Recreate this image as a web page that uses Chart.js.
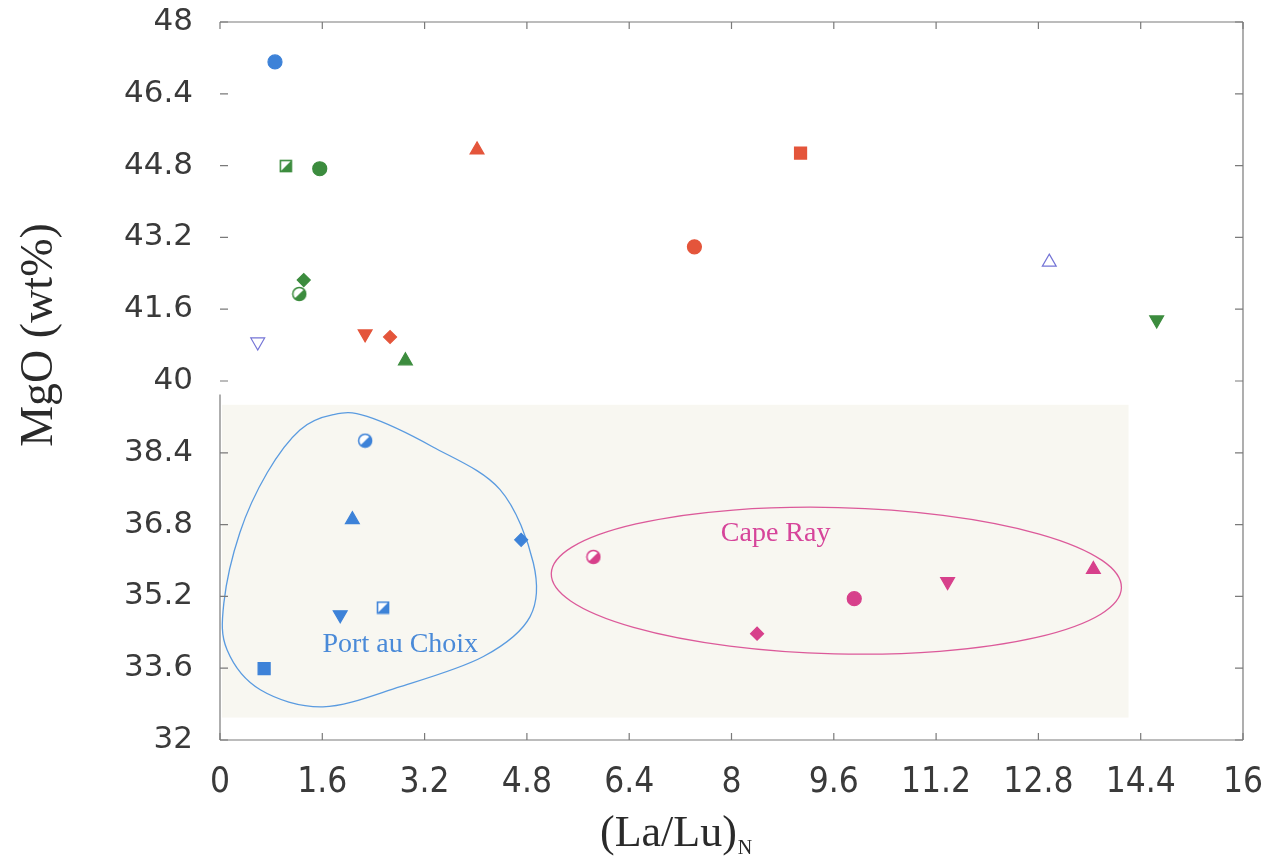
<!DOCTYPE html>
<html>
<head>
<meta charset="utf-8">
<script src="https://cdn.jsdelivr.net/npm/chart.js@4.4.1/dist/chart.umd.min.js"></script>
<style>
  body { margin: 0; background: #fff; }
  canvas { display: block; }
</style>
</head>
<body>
<canvas id="mgoChart" width="1284" height="859"></canvas>
<script>
// Axis ticks
const xTicks = [0, 1.6, 3.2, 4.8, 6.4, 8, 9.6, 11.2, 12.8, 14.4, 16];
const yTicks = [32, 33.6, 35.2, 36.8, 38.4, 40, 41.6, 43.2, 44.8, 46.4, 48];

// Samples above 40 wt% MgO, grouped by colour
const blueX = [0.86];
const blueY = [47.11];
const greenX = [1.03, 1.56, 1.31, 1.24, 2.90, 14.65];
const greenY = [44.79, 44.73, 42.25, 41.94, 40.45, 41.36];
const redX = [4.02, 9.08, 7.42, 2.27, 2.66];
const redY = [45.15, 45.08, 42.99, 41.05, 40.98];
const openX = [12.97, 0.59];
const openY = [42.65, 40.87];

// Port au Choix and Cape Ray samples
const portX = [2.27, 2.07, 4.71, 1.88, 2.55, 0.69];
const portY = [38.67, 36.91, 36.46, 34.79, 34.95, 33.59];
const capeX = [5.84, 8.40, 9.92, 11.38, 13.66];
const capeY = [36.08, 34.37, 35.15, 35.53, 35.80];

// Field outlines (data units)
const portOutlineX = [1.77, 2.30, 3.33, 4.38, 4.90, 4.85, 4.12, 2.82, 1.61, 0.63, 0.11, 0.06, 0.31, 0.74, 1.25];
const portOutlineY = [39.25, 39.21, 38.53, 37.58, 35.95, 34.75, 33.86, 33.19, 32.74, 33.12, 34.01, 35.05, 36.62, 37.96, 38.91];
const capeEllipse = { cx: 9.64, cy: 35.55, rx: 4.46, ry: 1.63 };

const BLUE = '#3d82d8';
const GREEN = '#3c8c3e';
const RED = '#e4553b';
const PINK = '#d7408b';
const VIOLET = '#7474d6';

function toPoints(xs, ys) {
    return xs.map((x, i) => ({ x: x, y: ys[i] }));
}

// half-filled square: outline plus lower-right triangle
function halfSquare(color) {
    const s = 14;
    const c = document.createElement('canvas');
    c.width = s; c.height = s;
    const g = c.getContext('2d');
    g.fillStyle = '#fff';
    g.fillRect(1, 1, s - 2, s - 2);
    g.fillStyle = color;
    g.beginPath();
    g.moveTo(1, s - 1);
    g.lineTo(s - 1, 1);
    g.lineTo(s - 1, s - 1);
    g.closePath();
    g.fill();
    g.strokeStyle = color;
    g.lineWidth = 1.6;
    g.strokeRect(1.5, 1.5, s - 3, s - 3);
    return c;
}

// half-filled circle: lower-right half solid
function halfCircle(color) {
    const s = 16;
    const c = document.createElement('canvas');
    c.width = s; c.height = s;
    const g = c.getContext('2d');
    const r = 6.5;
    g.fillStyle = '#fff';
    g.beginPath(); g.arc(s / 2, s / 2, r, 0, Math.PI * 2); g.fill();
    g.fillStyle = color;
    g.beginPath();
    g.arc(s / 2, s / 2, r, -Math.PI / 4, Math.PI * 3 / 4);
    g.closePath();
    g.fill();
    g.strokeStyle = color;
    g.lineWidth = 1.5;
    g.beginPath(); g.arc(s / 2, s / 2, r, 0, Math.PI * 2); g.stroke();
    return c;
}

function dataset(xs, ys, color, styles, rotations, radii, fill) {
    return {
        data: toPoints(xs, ys),
        pointStyle: styles,
        rotation: rotations,
        pointRadius: radii,
        pointHoverRadius: radii,
        backgroundColor: fill || color,
        borderColor: color,
        borderWidth: 1.2
    };
}

// Background panel, outlines and labels behind the markers
const fieldPlugin = {
    id: 'fields',
    beforeDatasetsDraw(chart) {
        const { ctx, scales: { x, y } } = chart;
        ctx.save();

        ctx.fillStyle = '#f8f7f1';
        const left = x.getPixelForValue(0.03), right = x.getPixelForValue(14.21);
        const top = y.getPixelForValue(39.47), bottom = y.getPixelForValue(32.5);
        ctx.fillRect(left, top, right - left, bottom - top);

        // Port au Choix closed curve (Catmull-Rom)
        const pts = portOutlineX.map((v, i) => [x.getPixelForValue(v), y.getPixelForValue(portOutlineY[i])]);
        const n = pts.length;
        ctx.strokeStyle = '#5a9be0';
        ctx.lineWidth = 1.3;
        ctx.beginPath();
        ctx.moveTo(pts[0][0], pts[0][1]);
        for (let i = 0; i < n; i++) {
            const p0 = pts[(i - 1 + n) % n], p1 = pts[i], p2 = pts[(i + 1) % n], p3 = pts[(i + 2) % n];
            ctx.bezierCurveTo(
                p1[0] + (p2[0] - p0[0]) / 6, p1[1] + (p2[1] - p0[1]) / 6,
                p2[0] - (p3[0] - p1[0]) / 6, p2[1] - (p3[1] - p1[1]) / 6,
                p2[0], p2[1]
            );
        }
        ctx.stroke();

        // Cape Ray ellipse
        const cx = x.getPixelForValue(capeEllipse.cx), cy = y.getPixelForValue(capeEllipse.cy);
        const rx = x.getPixelForValue(capeEllipse.cx + capeEllipse.rx) - cx;
        const ry = cy - y.getPixelForValue(capeEllipse.cy + capeEllipse.ry);
        ctx.strokeStyle = '#dc5a9a';
        ctx.beginPath();
        ctx.ellipse(cx, cy, rx, ry, 0.025, 0, Math.PI * 2);
        ctx.stroke();

        ctx.font = '28px "Liberation Serif", "Times New Roman", serif';
        ctx.textAlign = 'center';
        ctx.textBaseline = 'middle';
        ctx.fillStyle = '#4a8ad8';
        ctx.fillText('Port au Choix', x.getPixelForValue(2.82), y.getPixelForValue(34.12));
        ctx.fillStyle = '#d6459a';
        ctx.fillText('Cape Ray', x.getPixelForValue(8.69), y.getPixelForValue(36.6));
        ctx.restore();
    }
};

// Frame, inner ticks and axis titles
const framePlugin = {
    id: 'frame',
    afterDraw(chart) {
        const { ctx, chartArea: a, scales: { x, y } } = chart;
        ctx.save();
        ctx.strokeStyle = '#7a7a7a';
        ctx.lineWidth = 1.2;
        ctx.beginPath();
        ctx.moveTo(a.left, a.bottom); ctx.lineTo(a.right, a.bottom);
        ctx.moveTo(a.right, a.bottom); ctx.lineTo(a.right, a.top);
        ctx.moveTo(a.left, a.top); ctx.lineTo(a.right, a.top);
        ctx.moveTo(a.left, a.bottom); ctx.lineTo(a.left, y.getPixelForValue(39.7));
        ctx.stroke();

        ctx.beginPath();
        xTicks.forEach(v => {
            const px = x.getPixelForValue(v);
            ctx.moveTo(px, a.bottom); ctx.lineTo(px, a.bottom - 7);
            ctx.moveTo(px, a.top); ctx.lineTo(px, a.top + 7);
        });
        yTicks.forEach(v => {
            const py = y.getPixelForValue(v);
            ctx.moveTo(a.left, py); ctx.lineTo(a.left + 8, py);
            ctx.moveTo(a.right, py); ctx.lineTo(a.right - 8, py);
        });
        ctx.stroke();

        ctx.fillStyle = '#2a2a2a';
        ctx.font = '44px "Liberation Serif", "Times New Roman", serif';
        ctx.textBaseline = 'alphabetic';
        const main = '(La/Lu)';
        const w = ctx.measureText(main).width;
        const tx = 600;
        ctx.textAlign = 'left';
        ctx.fillText(main, tx, 846);
        ctx.font = '20px "Liberation Serif", "Times New Roman", serif';
        ctx.fillText('N', tx + w + 1, 854);

        ctx.font = '46px "Liberation Serif", "Times New Roman", serif';
        ctx.translate(52, 335);
        ctx.rotate(-Math.PI / 2);
        ctx.textAlign = 'center';
        ctx.fillText('MgO (wt%)', 0, 0);
        ctx.restore();
    }
};

const ctx = document.getElementById('mgoChart').getContext('2d');
const up = 0, down = 180;

new Chart(ctx, {
    type: 'scatter',
    data: {
        datasets: [
            dataset(blueX, blueY, BLUE, ['circle'], [up], [7]),
            dataset(greenX, greenY, GREEN,
                [halfSquare(GREEN), 'circle', 'rectRot', halfCircle(GREEN), 'triangle', 'triangle'],
                [up, up, up, up, up, down], [7, 7, 6.5, 7, 8, 8]),
            dataset(redX, redY, RED,
                ['triangle', 'rect', 'circle', 'triangle', 'rectRot'],
                [up, up, up, down, up], [8, 8.5, 7, 8, 6.5]),
            dataset(openX, openY, VIOLET, ['triangle', 'triangle'], [up, down], [8, 8], 'rgba(255,255,255,0)'),
            dataset(portX, portY, BLUE,
                [halfCircle(BLUE), 'triangle', 'rectRot', 'triangle', halfSquare(BLUE), 'rect'],
                [up, up, up, down, up, up], [7, 8, 6.5, 8, 7, 8.5]),
            dataset(capeX, capeY, PINK,
                [halfCircle(PINK), 'rectRot', 'circle', 'triangle', 'triangle'],
                [up, up, up, down, up], [7, 6.5, 7, 8, 8])
        ]
    },
    options: {
        responsive: false,
        animation: false,
        layout: { padding: { top: 22, right: 41, left: 0, bottom: 0 } },
        plugins: {
            legend: { display: false },
            tooltip: { enabled: false }
        },
        scales: {
            x: {
                type: 'linear',
                min: 0,
                max: 16,
                afterBuildTicks: scale => { scale.ticks = xTicks.map(v => ({ value: v })); },
                afterFit: scale => {
                    scale.height = 119;
                    scale.paddingLeft = 0;
                    scale.paddingRight = 0;
                },
                grid: { display: false, drawTicks: false },
                border: { display: false },
                ticks: {
                    padding: 22,
                    color: '#3a3a3a',
                    font: { family: '"Liberation Sans Narrow", "DejaVu Sans Condensed", sans-serif', size: 35 },
                    callback: v => String(Number(v.toFixed(1)))
                }
            },
            y: {
                type: 'linear',
                min: 32,
                max: 48,
                afterBuildTicks: scale => { scale.ticks = yTicks.map(v => ({ value: v })); },
                afterFit: scale => {
                    scale.width = 220;
                    scale.paddingTop = 0;
                    scale.paddingBottom = 0;
                },
                grid: { display: false, drawTicks: false },
                border: { display: false },
                ticks: {
                    padding: 27,
                    color: '#3a3a3a',
                    font: { family: '"DejaVu Sans", sans-serif', size: 31 },
                    callback: v => String(Number(v.toFixed(1)))
                }
            }
        }
    },
    plugins: [fieldPlugin, framePlugin]
});
</script>
</body>
</html>
